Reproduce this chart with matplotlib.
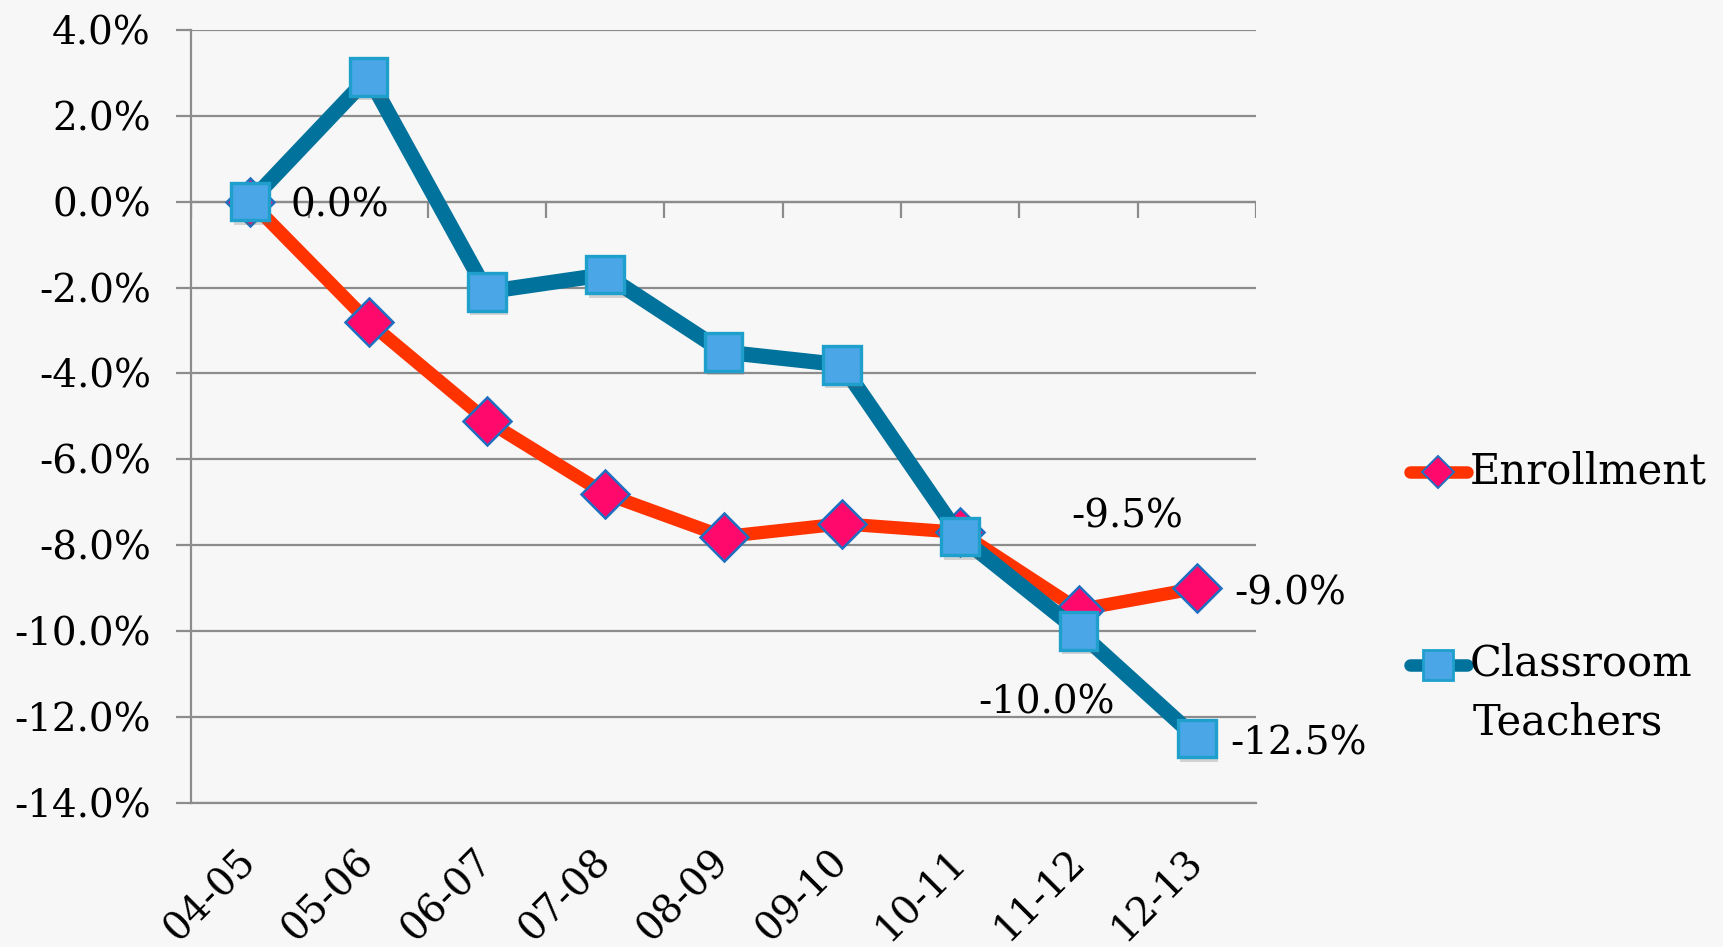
import matplotlib
matplotlib.use("Agg")
import matplotlib.pyplot as plt
import matplotlib.patheffects as pe
import numpy as np
from matplotlib.lines import Line2D

categories = ["04-05", "05-06", "06-07", "07-08", "08-09", "09-10", "10-11", "11-12", "12-13"]
enrollment = [0.0, -2.8, -5.1, -6.8, -7.8, -7.5, -7.7, -9.5, -9.0]
teachers = [0.0, 2.9, -2.1, -1.7, -3.5, -3.8, -7.8, -10.0, -12.5]
yticks = [4, 2, 0, -2, -4, -6, -8, -10, -12, -14]

plt.rcParams['font.family'] = ['DejaVu Serif']
BG = '#F7F7F7'
GRID = '#8C8C8C'
ENR_LINE = '#FF3300'
ENR_FILL = '#FF0A6C'
ENR_EDGE = '#1F6FC0'
TCH_LINE = '#00729C'
TCH_FILL = '#4AA6E6'
TCH_EDGE = '#1E9FCC'

fig = plt.figure(figsize=(17.23, 9.47), dpi=100, facecolor=BG)
ax = fig.add_axes([0.1109, 0.152, 0.729 - 0.1109, 0.9686 - 0.152])
ax.set_facecolor(BG)

x = np.arange(len(categories))
ax.set_xlim(-0.5, len(categories) - 0.5)
ax.set_ylim(-14, 4)

# grid
ax.set_yticks(yticks)
ax.yaxis.grid(True, color=GRID, lw=1.6, zorder=0)
ax.set_axisbelow(True)
for s in ['top', 'right']:
    ax.spines[s].set_visible(False)
for s in ['left', 'bottom']:
    ax.spines[s].set_color(GRID)
    ax.spines[s].set_linewidth(1.6)

ax.tick_params(axis='y', direction='out', length=11, width=1.6, color=GRID,
               labelsize=28, pad=18)
ax.set_yticklabels([f"{v:.1f}%" for v in yticks])

ax.set_xticks(x)
ax.set_xticklabels(categories, rotation=45, ha='right', va='center',
                   rotation_mode='anchor', fontsize=28)
ax.tick_params(axis='x', length=0, pad=38)

# horizontal axis crossing at zero with category-boundary ticks
ax.axhline(0, color=GRID, lw=1.6, zorder=1)
bounds = np.arange(len(categories) + 1) - 0.5
ax.vlines(bounds, -0.38, 0, color=GRID, lw=1.6, zorder=1)

# series lines
ax.plot(x, enrollment, color=ENR_LINE, lw=9.5, zorder=3, solid_capstyle='round',
        solid_joinstyle='round')
ax.plot(x, enrollment, ls='none', marker='D', ms=24,
        mfc=ENR_FILL, mec=ENR_EDGE, mew=1.8, zorder=3.5)
ax.plot(x, teachers, color=TCH_LINE, lw=11, zorder=4, solid_capstyle='round',
        solid_joinstyle='round')
ax.plot(x, teachers, ls='none', marker='s', ms=27,
        mfc=TCH_FILL, mec=TCH_EDGE, mew=2.4, zorder=4.5,
        path_effects=[pe.SimplePatchShadow(offset=(1.5, -3), shadow_rgbFace='#666666', alpha=0.25),
                      pe.Normal()])

# data labels
lab_kw = dict(textcoords='offset points', fontsize=28, zorder=5)
ax.annotate(f"{teachers[0]:.1f}%", (x[0], teachers[0]), xytext=(29, -3),
            ha='left', va='center', **lab_kw)
ax.annotate(f"{enrollment[7]:.1f}%", (x[7], enrollment[7]), xytext=(35, 67),
            ha='center', va='center', **lab_kw)
ax.annotate(f"{enrollment[8]:.1f}%", (x[8], enrollment[8]), xytext=(27, -4),
            ha='left', va='center', **lab_kw)
ax.annotate(f"{teachers[7]:.1f}%", (x[7], teachers[7]), xytext=(-23, -52),
            ha='center', va='center', **lab_kw)
ax.annotate(f"{teachers[8]:.1f}%", (x[8], teachers[8]), xytext=(24, -4),
            ha='left', va='center', **lab_kw)

# legend (manual)
W, H = 1723, 947
def fx(px):
    return px / W
def fy(py):
    return 1 - py / H

fig.add_artist(Line2D([fx(1410), fx(1467)], [fy(472), fy(472)], color=ENR_LINE,
                      lw=9, solid_capstyle='round', transform=fig.transFigure))
fig.add_artist(Line2D([fx(1438)], [fy(472)], marker='D', ms=16, mfc=ENR_FILL,
                      mec=ENR_EDGE, mew=1.4, transform=fig.transFigure))
fig.text(fx(1470), fy(472), "Enrollment", fontsize=30, ha='left', va='center')

fig.add_artist(Line2D([fx(1410), fx(1467)], [fy(665), fy(665)], color=TCH_LINE,
                      lw=9, solid_capstyle='round', transform=fig.transFigure))
fig.add_artist(Line2D([fx(1438)], [fy(665)], marker='s', ms=22, mfc=TCH_FILL,
                      mec=TCH_EDGE, mew=2, transform=fig.transFigure))
fig.text(fx(1470), fy(663), "Classroom", fontsize=30, ha='left', va='center')
fig.text(fx(1473), fy(722), "Teachers", fontsize=30, ha='left', va='center')

fig.savefig("out.png", dpi=100, facecolor=BG)
